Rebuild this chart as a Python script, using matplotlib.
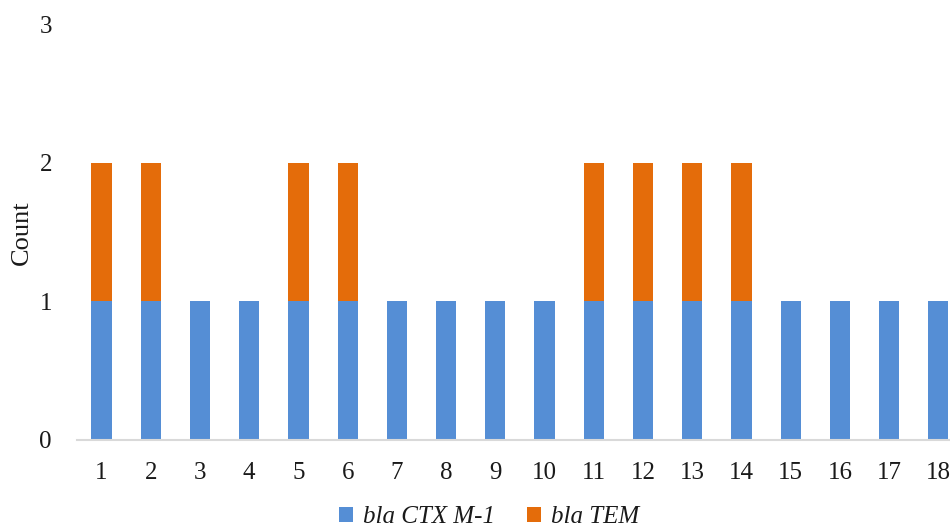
import numpy as np
import matplotlib.pyplot as plt

plt.rcParams['font.family'] = ['Liberation Serif', 'DejaVu Serif']

isolates = [str(i) for i in range(1, 19)]
ctx_m1 = [1, 1, 1, 1, 1, 1, 1, 1, 1, 1, 1, 1, 1, 1, 1, 1, 1, 1]
tem = [1, 1, 0, 0, 1, 1, 0, 0, 0, 0, 1, 1, 1, 1, 0, 0, 0, 0]

blue = '#558ED5'
orange = '#E46C0A'

fig = plt.figure(figsize=(9.5, 5.28), dpi=100)
ax = fig.add_axes([0.081, 0.1667, 0.9326, 0.787])

x = np.arange(len(isolates))
w = 0.41
ax.bar(x, ctx_m1, w, color=blue, label='bla CTX M-1')
ax.bar(x, tem, w, bottom=ctx_m1, color=orange, label='bla TEM')

ax.set_xlim(-0.5, len(isolates) - 0.5)
ax.set_ylim(0, 3)
ax.set_yticks([0, 1, 2, 3])
ax.set_xticks(x)
ax.set_xticklabels(isolates)
ax.tick_params(axis='both', length=0, labelsize=18, colors='#1a1a1a')
ax.tick_params(axis='y', pad=18)
ax.tick_params(axis='x', pad=16)

for s in ['top', 'right', 'left']:
    ax.spines[s].set_visible(False)
ax.spines['bottom'].set_color('#D9D9D9')
ax.spines['bottom'].set_linewidth(1.5)

ax.set_ylabel('Count', fontsize=19, color='#1a1a1a', labelpad=5)

leg = fig.legend(loc='center', bbox_to_anchor=(489 / 950, 1 - 517 / 528), ncol=2,
                 frameon=False, prop={'size': 18, 'style': 'italic'},
                 handlelength=0.55, handleheight=0.55, handletextpad=0.4,
                 columnspacing=1.3)
for t in leg.get_texts():
    t.set_color('#1a1a1a')

fig.savefig('out.png', dpi=100)
